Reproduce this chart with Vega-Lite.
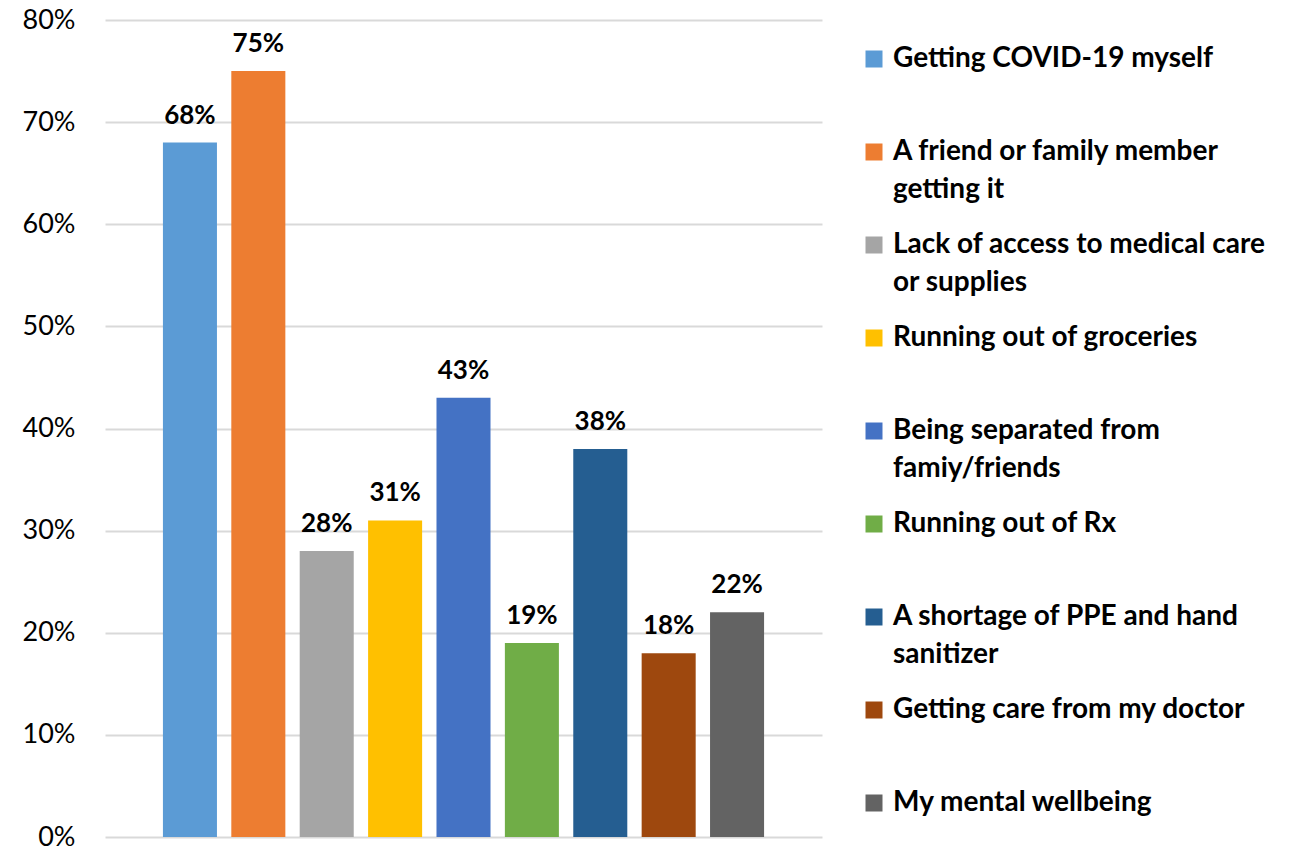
{
  "$schema": "https://vega.github.io/schema/vega-lite/v6.json",
  "width": 717,
  "height": 817,
  "padding": {"top": 6, "left": 5, "right": 5, "bottom": 0},
  "background": "white",
  "config": {"view": {"stroke": null}},
  "data": {
    "values": [
      {"concern": "Getting COVID-19 myself", "share": 0.68},
      {"concern": "A friend or family member getting it", "share": 0.75},
      {"concern": "Lack of access to medical care or supplies", "share": 0.28},
      {"concern": "Running out of groceries", "share": 0.31},
      {"concern": "Being separated from famiy/friends", "share": 0.43},
      {"concern": "Running out of Rx", "share": 0.19},
      {"concern": "A shortage of PPE and hand sanitizer", "share": 0.38},
      {"concern": "Getting care from my doctor", "share": 0.18},
      {"concern": "My mental wellbeing", "share": 0.22}
    ]
  },
  "encoding": {
    "x": {
      "field": "concern",
      "type": "nominal",
      "sort": null,
      "axis": null,
      "scale": {"paddingInner": 0.21, "paddingOuter": 0.847}
    },
    "y": {
      "field": "share",
      "type": "quantitative",
      "scale": {"domain": [0, 0.8], "nice": false},
      "axis": {
        "values": [0, 0.1, 0.2, 0.3, 0.4, 0.5, 0.6, 0.7, 0.8],
        "format": ".0%",
        "title": null,
        "domain": false,
        "ticks": false,
        "labelFont": "Lato",
        "labelFontSize": 27,
        "labelColor": "#000000",
        "labelPadding": 30,
        "minExtent": 100,
        "maxExtent": 100,
        "gridColor": "#d9d9d9",
        "gridWidth": 2
      }
    }
  },
  "layer": [
    {
      "mark": {"type": "bar"},
      "encoding": {
        "color": {
          "field": "concern",
          "type": "nominal",
          "sort": null,
          "scale": {
            "domain": [
              "Getting COVID-19 myself",
              "A friend or family member getting it",
              "Lack of access to medical care or supplies",
              "Running out of groceries",
              "Being separated from famiy/friends",
              "Running out of Rx",
              "A shortage of PPE and hand sanitizer",
              "Getting care from my doctor",
              "My mental wellbeing"
            ],
            "range": ["#5b9bd5", "#ed7d31", "#a5a5a5", "#ffc000", "#4472c4", "#70ad47", "#255e91", "#9e480e", "#636363"]
          },
          "legend": {
            "orient": "none",
            "legendX": 755,
            "legendY": 25,
            "title": null,
            "padding": 0,
            "symbolType": "square",
            "symbolSize": 289,
            "symbolStrokeWidth": 0,
            "symbolOpacity": 1,
            "labelFont": "Lato",
            "labelFontSize": 28,
            "labelFontWeight": "bold",
            "labelColor": "#000000",
            "labelLimit": 600,
            "labelOffset": 5,
            "rowPadding": 27,
            "gridAlign": "all",
            "labelExpr": "datum.label == 'A friend or family member getting it' ? ['A friend or family member', 'getting it'] : datum.label == 'Lack of access to medical care or supplies' ? ['Lack of access to medical care', 'or supplies'] : datum.label == 'Being separated from famiy/friends' ? ['Being separated from', 'famiy/friends'] : datum.label == 'A shortage of PPE and hand sanitizer' ? ['A shortage of PPE and hand', 'sanitizer'] : datum.label",
            "encode": {"labels": {"update": {"lineHeight": {"value": 38}}}}
          }
        }
      }
    },
    {
      "mark": {
        "type": "text",
        "baseline": "alphabetic",
        "dy": -19,
        "font": "Lato",
        "fontSize": 26,
        "fontWeight": "bold",
        "color": "#000000"
      },
      "encoding": {"text": {"field": "share", "type": "quantitative", "format": ".0%"}}
    }
  ]
}
